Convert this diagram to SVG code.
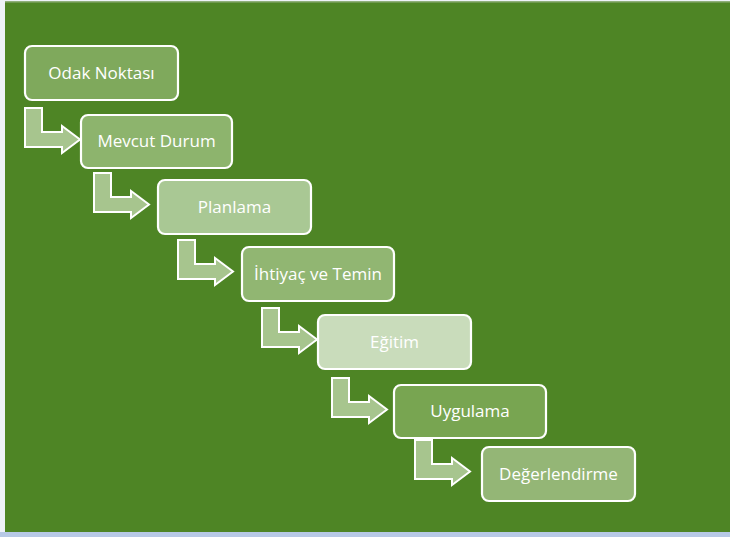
<svg xmlns="http://www.w3.org/2000/svg" width="730" height="537" viewBox="0 0 730 537">
<defs>
<style>
.box{stroke:#ffffff;stroke-width:2.2}
.lbl{font-family:"Open Sans","Liberation Sans",sans-serif;font-size:17px;fill:#ffffff;text-anchor:middle;dominant-baseline:central}
.arr{fill:#a7c58e;stroke:#ffffff;stroke-width:2;stroke-linejoin:miter}
</style>
<path id="bent" d="M0,0 H17 V24 H37 V18 L55,31.5 L37,45 V39 H0 Z"/>
</defs>
<rect x="0" y="0" width="730" height="537" fill="#eef2f8"/>
<rect x="5" y="1" width="725" height="531" fill="#4e8525"/>
<rect x="5" y="1" width="725" height="1.5" fill="#8fae7a"/>
<rect x="0" y="532" width="730" height="5" fill="#b7c9e6"/>
<g id="connectors">
<use href="#bent" class="arr" x="25" y="108"/>
<use href="#bent" class="arr" x="94" y="173"/>
<use href="#bent" class="arr" x="178" y="240"/>
<use href="#bent" class="arr" x="262" y="308"/>
<use href="#bent" class="arr" x="332" y="378"/>
<use href="#bent" class="arr" x="415" y="440"/>
</g>
<g id="n1"><rect class="box" x="25" y="46" width="153" height="54" rx="7" fill="#7fa95c"/><text class="lbl" x="101.5" y="72">Odak Noktası</text></g>
<g id="n2"><rect class="box" x="81" y="115" width="151" height="53" rx="7" fill="#8db46d"/><text class="lbl" x="156.5" y="140.5">Mevcut Durum</text></g>
<g id="n3"><rect class="box" x="158" y="180" width="153" height="54" rx="7" fill="#a9c894"/><text class="lbl" x="234.5" y="206">Planlama</text></g>
<g id="n4"><rect class="box" x="242" y="247" width="152" height="54" rx="7" fill="#91b672"/><text class="lbl" x="318" y="273">İhtiyaç ve Temin</text></g>
<g id="n5"><rect class="box" x="318" y="315" width="153" height="54" rx="7" fill="#c9dcbb"/><text class="lbl" x="394.5" y="341">Eğitim</text></g>
<g id="n6"><rect class="box" x="394" y="385" width="152" height="53" rx="7" fill="#78a551"/><text class="lbl" x="470" y="410.5">Uygulama</text></g>
<g id="n7"><rect class="box" x="482" y="447" width="153" height="54" rx="7" fill="#94b676"/><text class="lbl" x="558.5" y="473">Değerlendirme</text></g>
</svg>
